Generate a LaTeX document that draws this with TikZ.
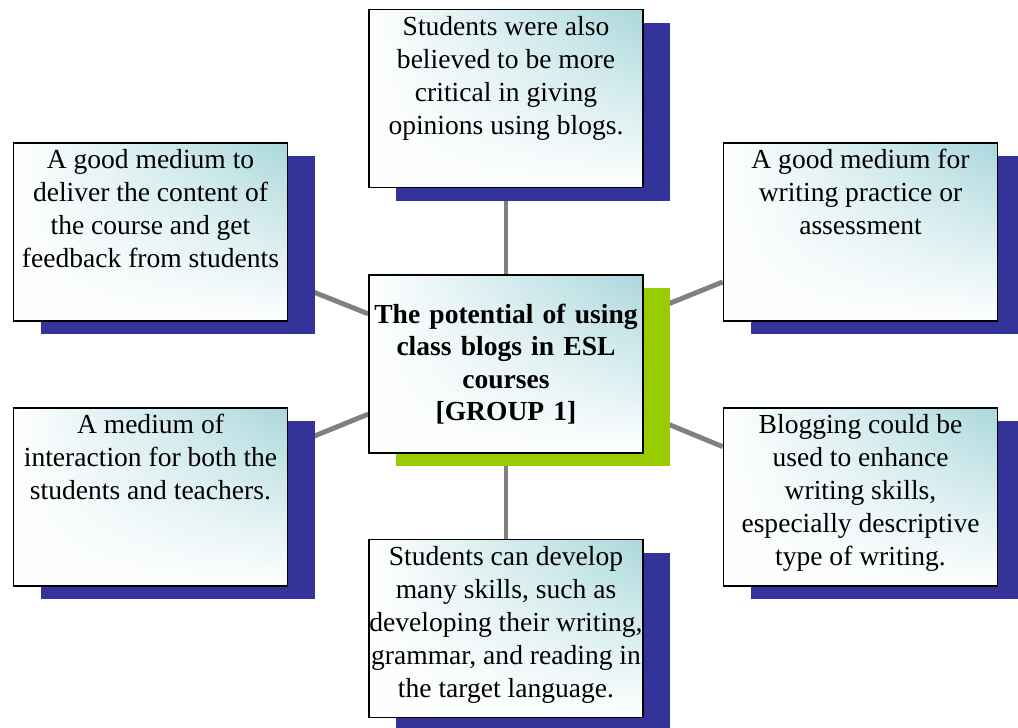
\documentclass[tikz,border=0pt]{standalone}
\usepackage{fontspec}
\setmainfont{Liberation Serif}
\usetikzlibrary{shadows, backgrounds, fadings, positioning}
\definecolor{boxteal}{RGB}{170,216,221}
\definecolor{shadowblue}{RGB}{51,51,153}
\definecolor{shadowgreen}{RGB}{153,204,0}
\definecolor{linkgray}{RGB}{128,128,128}
\newcommand{\blogtext}[1]{\makebox[6.85cm]{\parbox[c][4.45cm][t]{7.1cm}{\centering\rule{0pt}{0.65cm}#1}}}

\begin{document}
\begin{tikzpicture}[
    blogbox/.style={draw=black, line width=1.1pt, minimum width=6.85cm, minimum height=4.45cm, inner sep=0pt,
        left color=white, right color=boxteal,
        path picture={\fill[white, path fading=north] (path picture bounding box.south west) rectangle (path picture bounding box.north east);},
        general shadow={fill=shadowblue, shadow xshift=0.675cm, shadow yshift=-0.325cm},
        font=\fontsize{19.6pt}{23.5pt}\selectfont},
    corebox/.style={blogbox, align=center, text width=6.75cm,
        general shadow={fill=shadowgreen, shadow xshift=0.675cm, shadow yshift=-0.325cm},
        font=\fontsize{19.6pt}{23pt}\selectfont\bfseries},
    link/.style={draw=linkgray, line width=3.5pt}
]

        % Khung ảnh
        \useasboundingbox (0,0) rectangle (25.45,18.175);

        % Ô trung tâm
        \node[corebox] (core) at (12.65,9.075) {The potential of using\\class blogs in ESL\\courses\\{}[GROUP 1]};

        % Các ô xung quanh
        \node[blogbox] (critical) at (12.65,15.71) {\blogtext{Students were also\\believed to be more\\critical in giving\\opinions using blogs.}}; % Trên
        \node[blogbox] (deliver) at (3.7625,12.38) {\blogtext{A good medium to\\deliver the content of\\the course and get\\feedback from students}}; % Trái trên
        \node[blogbox] (practice) at (21.5125,12.38) {\blogtext{A good medium for\\writing practice or\\assessment}}; % Phải trên
        \node[blogbox] (interact) at (3.7625,5.755) {\blogtext{A medium of\\interaction for both the\\students and teachers.}}; % Trái dưới
        \node[blogbox] (enhance) at (21.5125,5.755) {\blogtext{Blogging could be\\used to enhance\\writing skills,\\especially descriptive\\type of writing.}}; % Phải dưới
        \node[blogbox] (skills) at (12.65,2.4625) {\blogtext{Students can develop\\many skills, such as\\developing their writing,\\grammar, and reading in\\the target language.}}; % Dưới

        % Các đường nối
        \begin{scope}[on background layer]
        \draw[link] (core.north) -- (critical.south);
        \draw[link] (core.south) -- (skills.north);
        \draw[link] (core.160) -- (deliver.-20);
        \draw[link] (core.20) -- (practice.-160);
        \draw[link] (core.200) -- (interact.20);
        \draw[link] (core.-20) -- (enhance.160);
        \end{scope}

\end{tikzpicture}
\end{document}
